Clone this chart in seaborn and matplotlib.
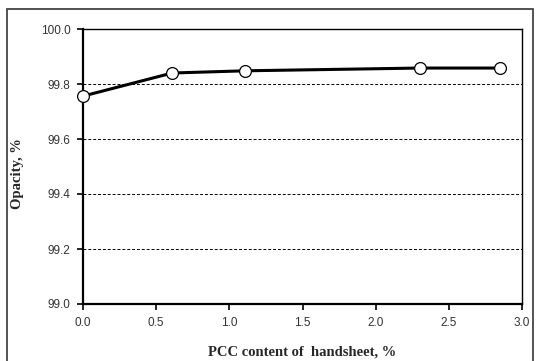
import matplotlib
matplotlib.use("Agg")
import matplotlib.pyplot as plt
import seaborn as sns
import pandas as pd
from matplotlib.patches import Rectangle

pcc_content = [0.0, 0.61, 1.11, 2.30, 2.85]
opacity = [99.756, 99.840, 99.848, 99.858, 99.858]
x_ticks = [0.0, 0.5, 1.0, 1.5, 2.0, 2.5, 3.0]
y_ticks = [99.0, 99.2, 99.4, 99.6, 99.8, 100.0]

sns.set_style("white")
plt.rcParams['font.family'] = ['Liberation Sans', 'DejaVu Sans']

df = pd.DataFrame({"x": pcc_content, "y": opacity})

fig = plt.figure(figsize=(5.36, 3.61), dpi=100)
ax = fig.add_axes([83/536, 1 - 304/361, (522-83)/536, (304-29)/361])

sns.lineplot(data=df, x="x", y="y", ax=ax, color="black", linewidth=2.2,
             marker="o", markersize=8.5, markerfacecolor="white",
             markeredgecolor="black", markeredgewidth=0.9, clip_on=False, zorder=5)

ax.set_xlim(0, 3.0)
ax.set_ylim(99.0, 100.0)
ax.set_xticks(x_ticks)
ax.set_yticks(y_ticks)
ax.set_xticklabels([f"{v:.1f}" for v in x_ticks], fontsize=8.5, color="#333333")
ax.set_yticklabels([f"{v:.1f}" for v in y_ticks], fontsize=8.5, color="#333333")
ax.tick_params(axis="both", direction="out", length=4, width=1.2, color="black",
               bottom=True, left=True, pad=5)

for yv in y_ticks[1:-1]:
    ax.axhline(yv, color="black", linestyle=(0, (3, 2)), linewidth=0.7, zorder=0)

for s in ax.spines.values():
    s.set_color("black")
    s.set_linewidth(1.0)
ax.spines["left"].set_linewidth(1.6)
ax.spines["bottom"].set_linewidth(1.6)

ax.set_xlabel("")
ax.set_ylabel("")
serif = ["Liberation Serif", "DejaVu Serif"]
fig.text(302/536, 1 - 352/361, "PCC content of  handsheet, %", fontsize=10.5,
         fontweight="bold", family=serif, ha="center", va="center")
fig.text(18/536, 1 - 174/361, "Opacity, %", fontsize=10.5, fontweight="bold",
         family=serif, ha="center", va="center", rotation=90)

fig.patches.append(Rectangle((7/536, -0.05), (533-7)/536, 1 - 9/361 + 0.05,
                             transform=fig.transFigure, fill=False,
                             edgecolor="#444444", linewidth=1.3))

fig.savefig("out.png", dpi=100)
